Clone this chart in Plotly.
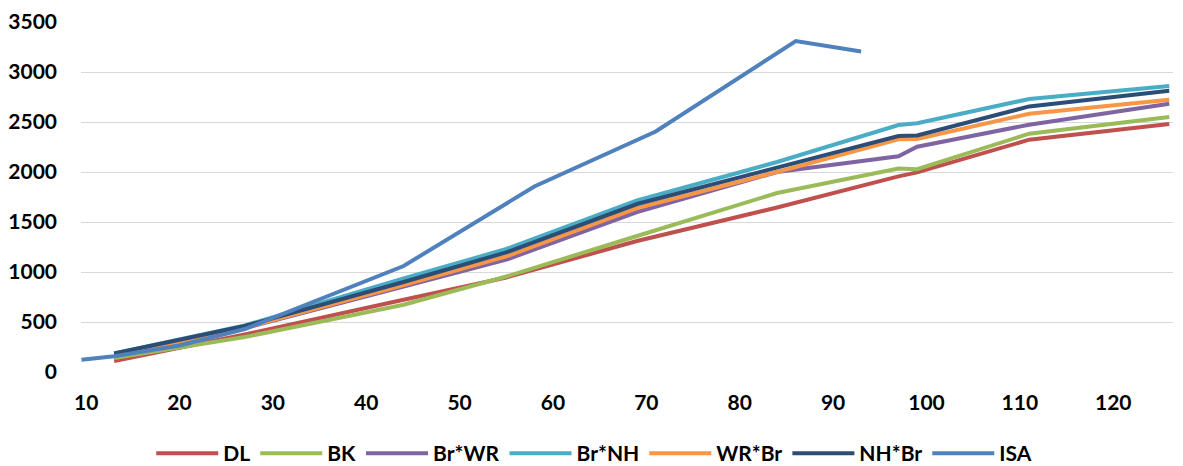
import plotly.graph_objects as go

# Shared x positions for the six crosses
x_vals = [13, 27, 44, 55, 69, 84, 97, 99, 111, 126]
dl = [110, 375, 723, 945, 1310, 1645, 1956, 1996, 2323, 2480]
bk = [140, 350, 673, 955, 1360, 1790, 2035, 2028, 2383, 2550]
br_wr = [160, 440, 855, 1123, 1600, 2000, 2158, 2253, 2473, 2683]
br_nh = [185, 465, 935, 1230, 1715, 2100, 2470, 2488, 2730, 2860]
wr_br = [165, 445, 870, 1156, 1640, 2000, 2328, 2330, 2583, 2723]
nh_br = [185, 460, 900, 1196, 1680, 2042, 2360, 2365, 2656, 2813]

# ISA series has its own x positions
x_isa = [9.5, 13, 20, 27, 44, 58, 71, 86, 93]
isa = [123, 158, 265, 430, 1060, 1855, 2405, 3310, 3205]

series_names = ["DL", "BK", "Br*WR", "Br*NH", "WR*Br", "NH*Br", "ISA"]
colors = ["#C0504D", "#9BBB59", "#8064A2", "#4BACC6", "#F79646", "#2C4D75", "#4F81BD"]

x_ticks = [10, 20, 30, 40, 50, 60, 70, 80, 90, 100, 110, 120]
y_ticks = [0, 500, 1000, 1500, 2000, 2500, 3000, 3500]

data = [dl, bk, br_wr, br_nh, wr_br, nh_br]

fig = go.Figure()
for name, ys, c in zip(series_names[:6], data, colors[:6]):
    fig.add_trace(go.Scatter(x=x_vals, y=ys, mode="lines", name=name,
                             line=dict(color=c, width=4)))
fig.add_trace(go.Scatter(x=x_isa, y=isa, mode="lines", name=series_names[6],
                         line=dict(color=colors[6], width=4)))

font_family = "Lato"
fig.update_layout(
    width=1183, height=466,
    margin=dict(l=81, r=10, t=22, b=94, autoexpand=False),
    paper_bgcolor="white", plot_bgcolor="white",
    font=dict(family=font_family, size=20, color="#000000"),
    showlegend=True,
    legend=dict(orientation="h", x=0.47, xanchor="center", y=-0.233, yanchor="middle",
                font=dict(family=font_family, size=21, color="#000000", weight="bold"),
                itemwidth=62, tracegroupgap=0),
    xaxis=dict(range=[9.45, 126.4], tickvals=x_ticks, showgrid=False, zeroline=False,
               showline=False, ticks="", ticklabelstandoff=16, automargin=False,
               tickfont=dict(family=font_family, size=21, weight="bold")),
    yaxis=dict(range=[0, 3500], tickvals=y_ticks, showgrid=True, gridcolor="#D9D9D9",
               gridwidth=1.3, zeroline=False, showline=False, ticks="",
               ticklabelstandoff=23, automargin=False,
               tickfont=dict(family=font_family, size=21, weight="bold")),
)

fig.write_html("out.html", config={"displayModeBar": False},
               post_script="document.body.style.margin='0';document.body.style.overflow='hidden';")
